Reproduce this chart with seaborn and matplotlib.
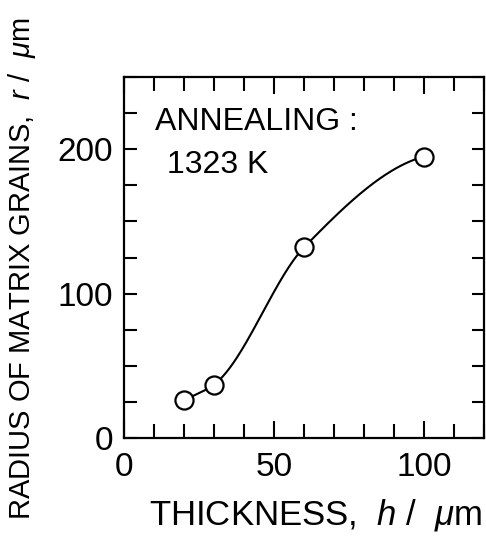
import numpy as np
import pandas as pd
import matplotlib
matplotlib.use("Agg")
import matplotlib.pyplot as plt
from matplotlib.ticker import MultipleLocator
import seaborn as sns

# measured points
thickness = [20, 30, 60, 100]
radius = [26, 37, 132, 195]

sns.set_style("ticks")
plt.rcParams["font.family"] = ["Liberation Sans", "DejaVu Sans"]
plt.rcParams["text.color"] = "black"
plt.rcParams["mathtext.fontset"] = "custom"
plt.rcParams["mathtext.rm"] = "Liberation Sans"
plt.rcParams["mathtext.it"] = "Liberation Sans:italic"


def smooth_curve(x, y, n=200):
    # monotone cubic hermite (Fritsch-Carlson) through the points
    x = np.asarray(x, float)
    y = np.asarray(y, float)
    h = np.diff(x)
    d = np.diff(y) / h
    m = np.zeros_like(y)
    m[0], m[-1] = d[0], d[-1] * 0.35
    for i in range(1, len(x) - 1):
        w1 = 2 * h[i] + h[i - 1]
        w2 = h[i] + 2 * h[i - 1]
        m[i] = (w1 + w2) / (w1 / d[i - 1] + w2 / d[i])
    xs = np.linspace(x[0], x[-1], n)
    k = np.clip(np.searchsorted(x, xs) - 1, 0, len(h) - 1)
    t = (xs - x[k]) / h[k]
    h00 = 2 * t**3 - 3 * t**2 + 1
    h10 = t**3 - 2 * t**2 + t
    h01 = -2 * t**3 + 3 * t**2
    h11 = t**3 - t**2
    ys = h00 * y[k] + h10 * h[k] * m[k] + h01 * y[k + 1] + h11 * h[k] * m[k + 1]
    return xs, ys


cx, cy = smooth_curve(thickness, radius)
curve = pd.DataFrame({"h": cx, "r": cy})
pts = pd.DataFrame({"h": thickness, "r": radius})

fig = plt.figure(figsize=(4.86, 5.36), dpi=100)
ax = fig.add_axes([0.255, 0.183, 0.741, 0.673])

sns.lineplot(data=curve, x="h", y="r", color="black", lw=1.5, ax=ax)
sns.scatterplot(data=pts, x="h", y="r", s=170, facecolor="white",
                edgecolor="black", linewidth=1.6, zorder=3, ax=ax)

ax.set_xlim(0, 120)
ax.set_ylim(0, 250)
ax.xaxis.set_major_locator(MultipleLocator(50))
ax.xaxis.set_minor_locator(MultipleLocator(10))
ax.yaxis.set_major_locator(MultipleLocator(100))
ax.yaxis.set_minor_locator(MultipleLocator(25))
ax.tick_params(which="both", direction="in", top=True, right=True,
               labelsize=24, width=1.5, colors="black")
ax.tick_params(axis="x", which="major", length=12, pad=10)
ax.tick_params(axis="x", which="minor", length=10)
ax.tick_params(axis="y", which="both", length=9, pad=8)
for s in ax.spines.values():
    s.set_linewidth(1.6)
    s.set_color("black")

ax.set_xlabel("")
ax.set_ylabel("")
fig.text(0.65, 0.005, r"THICKNESS,  $\mathit{h}$ /  $\mathit{\mu}$m",
         fontsize=25, ha="center", va="bottom")
fig.text(0.045, 0.5, r"RADIUS OF MATRIX GRAINS,  $\mathit{r}$ /  $\mathit{\mu}$m",
         fontsize=21, rotation=90, ha="center", va="center")

ax.text(10.3, 219, "ANNEALING :", fontsize=23, ha="left", va="center")
ax.text(14.3, 189, "1323 K", fontsize=23, ha="left", va="center")

fig.savefig("out.png", dpi=100)
